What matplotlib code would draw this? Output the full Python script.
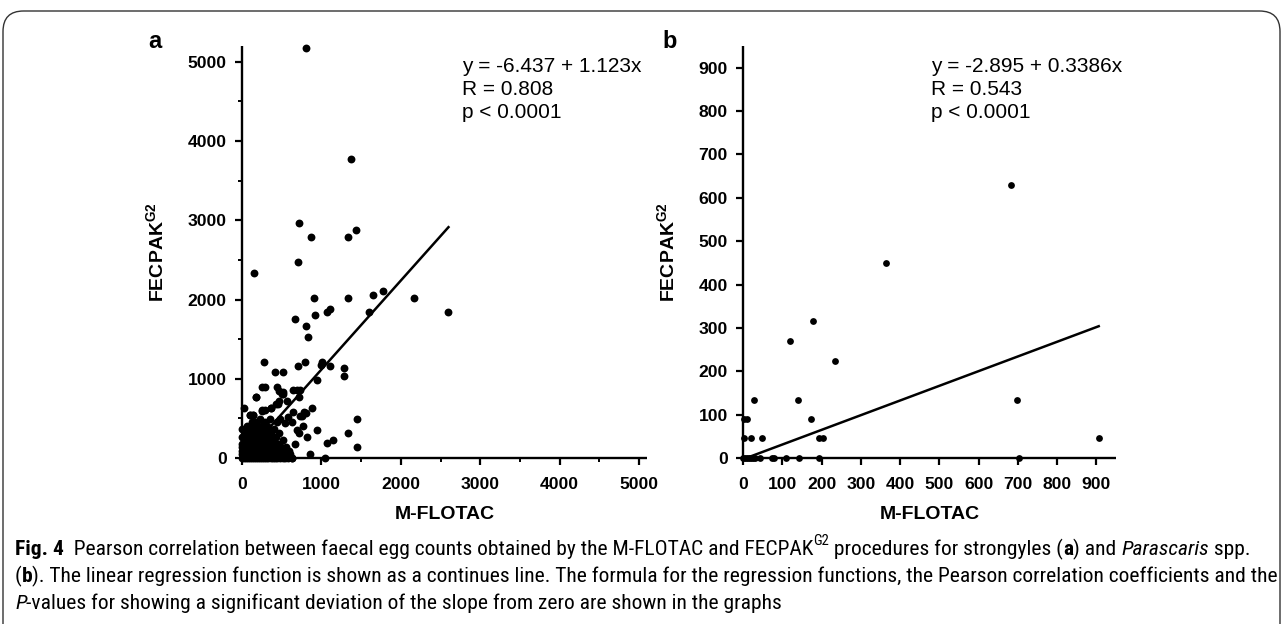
import matplotlib
matplotlib.use("Agg")
import matplotlib.pyplot as plt
from matplotlib import font_manager as fm
from matplotlib.patches import FancyBboxPatch
from matplotlib.ticker import MultipleLocator

# ---------------- data ----------------
# Panel a: strongyles (M-FLOTAC vs FECPAK G2)
a_x = [806, 1370, 720, 870, 1340, 1440, 155, 700, 910, 1340, 2160, 1650, 1770, 1600, 2600,
       920, 1070, 1110, 670, 810, 830, 280, 790, 710, 1010, 1000, 1110, 1290, 1280, 410, 520,
       950, 250, 290, 440, 466, 512, 638, 688, 730, 714, 176, 567, 453, 20, 248, 361, 882, 785,
       806, 638, 101, 143, 730, 756, 1450, 478, 583, 541, 626, 764, 688, 714, 950, 814, 1330,
       1142, 1066, 1448, 672, 852, 1040, 626, 520, 562,
       0, 0, 0, 0, 0, 0, 0, 20, 25, 30, 35, 40, 45, 50, 55, 60, 65, 70, 75, 80, 85, 90, 95, 100,
       100, 105, 110, 115, 120, 120, 125, 130, 135, 140, 145, 150, 150, 155, 160, 165, 170, 175,
       180, 185, 190, 195, 200, 200, 205, 210, 215, 220, 225, 225, 230, 235, 240, 245, 250, 250,
       255, 260, 265, 270, 275, 280, 285, 290, 295, 300, 305, 310, 315, 320, 325, 330, 335, 340,
       345, 350, 355, 360, 365, 370, 380, 385, 390, 400, 405, 410, 420, 425, 430, 440, 445, 450,
       460, 470, 480, 490, 500, 510, 520, 530, 545, 560, 575, 590, 610, 630,
       100, 140, 170, 250, 290, 360, 430, 460, 500, 520]
a_y = [5170, 3770, 2970, 2790, 2790, 2880, 2340, 2470, 2020, 2020, 2020, 2060, 2110, 1840, 1840,
       1800, 1840, 1880, 1750, 1660, 1530, 1210, 1210, 1160, 1210, 1170, 1160, 1130, 1030, 1080,
       1080, 990, 900, 900, 900, 845, 811, 854, 854, 857, 773, 769, 715, 677, 630, 596, 630, 630,
       584, 563, 584, 542, 542, 534, 534, 490, 492, 521, 445, 458, 407, 353, 319, 350, 269, 310,
       227, 185, 135, 177, 47, 0, 0, 50, 15,
       0, 45, 90, 135, 180, 270, 360, 0, 90, 225, 320, 45, 180, 0, 135, 270, 405, 90, 0, 315, 180,
       45, 225, 0, 360, 135, 270, 90, 0, 450, 180, 315, 45, 225, 0, 135, 405, 270, 90, 360, 0,
       180, 450, 45, 315, 225, 0, 135, 405, 270, 90, 360, 0, 180, 495, 45, 315, 225, 0, 135, 405,
       270, 90, 360, 0, 180, 450, 45, 315, 225, 0, 135, 405, 90, 270, 0, 180, 360, 45, 225, 495,
       0, 135, 315, 90, 0, 225, 45, 360, 180, 0, 270, 90, 450, 0, 180, 45, 315, 0, 135, 90, 0,
       225, 45, 0, 135, 0, 90, 45, 0,
       540, 540, 770, 600, 600, 630, 680, 720, 810, 830]

# Panel b: Parascaris spp.
b_x = [683, 364, 179, 119, 234, 29, 139, 697, 3, 9, 174, 3, 20, 49, 193, 204, 906,
       0, 5, 10, 15, 20, 25, 30, 44, 75, 79, 109, 143, 193, 702]
b_y = [630, 450, 315, 270, 224, 134, 134, 134, 90, 90, 90, 45, 45, 45, 45, 45, 45,
       0, 0, 0, 0, 0, 0, 0, 0, 0, 0, 0, 0, 0, 0]

a_fit = (-6.437, 1.123)
b_fit = (-2.895, 0.3386)
a_stats = ["y = -6.437 + 1.123x", "R = 0.808", "p < 0.0001"]
b_stats = ["y = -2.895 + 0.3386x", "R = 0.543", "p < 0.0001"]

# ---------------- style ----------------
plt.rcParams['font.family'] = ['Liberation Sans', 'DejaVu Sans']
plt.rcParams['mathtext.fontset'] = 'custom'
plt.rcParams['mathtext.rm'] = 'Liberation Sans'
plt.rcParams['mathtext.bf'] = 'Liberation Sans:bold'

W, H = 1282, 624
fig = plt.figure(figsize=(W / 100, H / 100), dpi=100)


def px_axes(left, bottom, right, top):
    return [left / W, 1 - bottom / H, (right - left) / W, (bottom - top) / H]


ax1 = fig.add_axes(px_axes(242, 458, 647, 46))
ax2 = fig.add_axes(px_axes(743, 458, 1116, 46))


def style(ax, xlim, ylim, major, minor):
    ax.set_xlim(*xlim)
    ax.set_ylim(*ylim)
    for s in ('top', 'right'):
        ax.spines[s].set_visible(False)
    for s in ('left', 'bottom'):
        ax.spines[s].set_linewidth(1.7)
        ax.spines[s].set_capstyle('butt')
    ax.xaxis.set_major_locator(MultipleLocator(major))
    ax.yaxis.set_major_locator(MultipleLocator(major))
    if minor:
        ax.xaxis.set_minor_locator(MultipleLocator(minor))
        ax.yaxis.set_minor_locator(MultipleLocator(minor))
    ax.tick_params(which='major', direction='out', length=5, width=1.6,
                   labelsize=12.6)
    ax.tick_params(which='minor', direction='out', length=3, width=1.4)
    ax.tick_params(axis='x', which='major', pad=9)
    ax.tick_params(axis='y', which='major', pad=6)
    for lab in ax.get_xticklabels() + ax.get_yticklabels():
        lab.set_fontweight('bold')
    ax.patch.set_alpha(0)


style(ax1, (0, 5100), (0, 5200), 1000, 500)
style(ax2, (0, 950), (0, 950), 100, None)

ax1.scatter(a_x, a_y, s=32, color='black', linewidths=0, clip_on=False, zorder=3)
ax2.scatter(b_x, b_y, s=24, color='black', linewidths=0, clip_on=False, zorder=3)

xa = [0, max(a_x)]
ax1.plot(xa, [a_fit[0] + a_fit[1] * v for v in xa], color='black', lw=1.8, zorder=2)
xb = [0, max(b_x)]
ax2.plot(xb, [b_fit[0] + b_fit[1] * v for v in xb], color='black', lw=1.8, zorder=2)

for ax in (ax1, ax2):
    ax.set_xlabel('M-FLOTAC', fontsize=14, fontweight='bold', labelpad=10)
    ax.set_ylabel(r'FECPAK$^{\mathbf{G2}}$', fontsize=14, fontweight='bold', labelpad=14)

fig.text(462 / W, 1 - 57 / H, "\n".join(a_stats), fontsize=15, va='top', ha='left',
         linespacing=1.25)
fig.text(931 / W, 1 - 57 / H, "\n".join(b_stats), fontsize=15, va='top', ha='left',
         linespacing=1.25)

fig.text(148 / W, 1 - 48 / H, 'a', fontsize=17, fontweight='bold', va='baseline')
fig.text(662 / W, 1 - 48 / H, 'b', fontsize=17, fontweight='bold', va='baseline')

# border
box = FancyBboxPatch((3 / W, -0.05), (W - 5) / W, 1 - 11 / H + 0.05,
                     boxstyle="round,pad=0,rounding_size=0.016",
                     transform=fig.transFigure, fill=False, lw=1.0,
                     edgecolor='#333333', mutation_aspect=W / H)
fig.add_artist(box)

# ---------------- caption ----------------
names = {}
for f in fm.fontManager.ttflist:
    names.setdefault(f.name, set()).add(f.stretch)
cap_family, cap_stretch = 'Open Sans', 'normal'
for nm in ('Liberation Sans Narrow', 'Roboto Condensed', 'Open Sans Condensed',
           'DejaVu Sans Condensed'):
    if nm in names:
        cap_family, cap_stretch = nm, 'normal'
        break
else:
    for nm in ('Open Sans', 'Noto Sans', 'DejaVu Sans', 'Roboto'):
        st = names.get(nm, set())
        if 'condensed' in st or 'semi-condensed' in st:
            cap_family = nm
            cap_stretch = 'condensed' if 'condensed' in st else 'semi-condensed'
            break

lines = [
    [("Fig. 4", 'bold', 'normal', False), ("  Pearson correlation between faecal egg counts obtained by the M-FLOTAC and FECPAK", 'normal', 'normal', False),
     ("G2", 'normal', 'normal', True), (" procedures for strongyles (", 'normal', 'normal', False),
     ("a", 'bold', 'normal', False), (") and ", 'normal', 'normal', False),
     ("Parascaris", 'normal', 'italic', False), (" spp.", 'normal', 'normal', False)],
    [("(", 'normal', 'normal', False), ("b", 'bold', 'normal', False),
     ("). The linear regression function is shown as a continues line. The formula for the regression functions, the Pearson correlation coefficients and the", 'normal', 'normal', False)],
    [("P", 'normal', 'italic', False),
     ("-values for showing a significant deviation of the slope from zero are shown in the graphs", 'normal', 'normal', False)],
]

renderer = fig.canvas.get_renderer()


def draw_line(segs, x0, ybase, size, measure=False):
    x = x0
    arts = []
    for txt, wt, st, sup in segs:
        fs = size * 0.68 if sup else size
        yy = ybase - (size * 0.45 / 72 * 100 if sup else 0)
        t = fig.text(x / W, 1 - yy / H, txt, fontsize=fs, fontweight=wt, fontstyle=st,
                     family=[cap_family, 'DejaVu Sans'], fontstretch=cap_stretch,
                     va='baseline', ha='left', transform=fig.transFigure)
        bb = t.get_window_extent(renderer)
        x += bb.width
        arts.append(t)
    if measure:
        for t in arts:
            t.remove()
    return x - x0


base = 12.0
wid = draw_line(lines[1], 15, 582, base, measure=True)
cap_size = base * (1263 / wid)
for segs, yb in zip(lines, (555, 582, 609)):
    draw_line(segs, 15, yb, cap_size)

fig.savefig('out.png', dpi=100)
